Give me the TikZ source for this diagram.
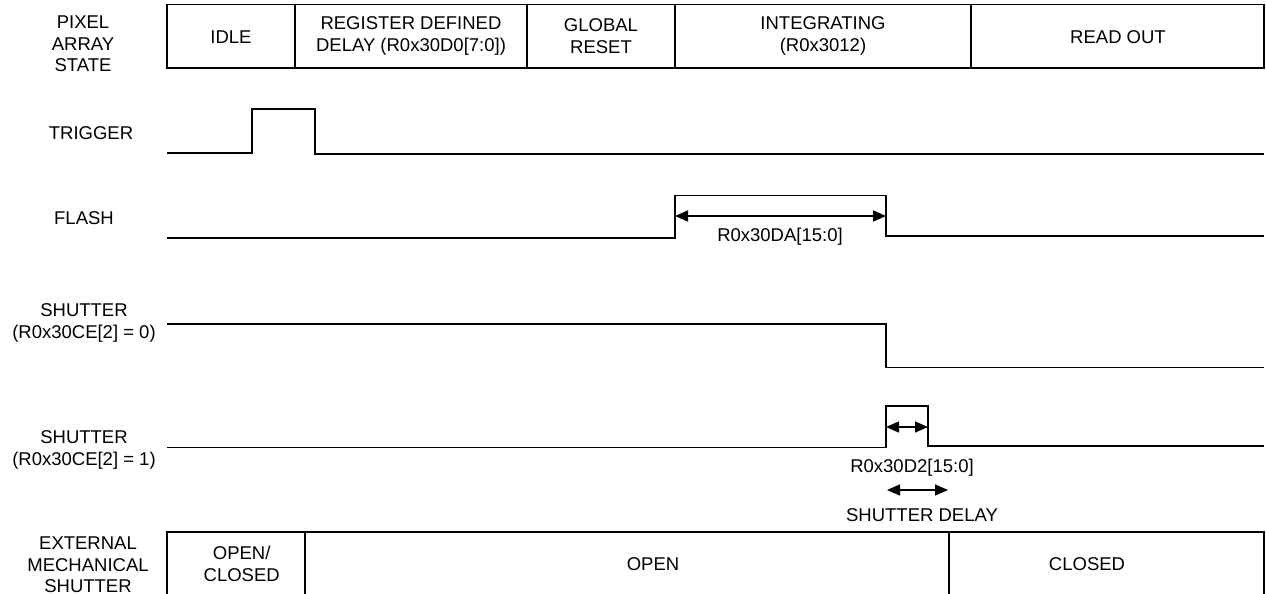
\documentclass[tikz,border=0pt]{standalone}
\usepackage{fontspec}
\setmainfont{Liberation Sans}
\usetikzlibrary{arrows.meta}
\begin{document}
\begin{tikzpicture}[x=1pt,y=-1pt,
  wave/.style={line width=1.6pt, line join=miter},
  frame/.style={line width=1.6pt},
  lbl/.style={align=center, inner sep=0pt, font=\fontsize{18.5}{21.6}\selectfont},
  dimarrow/.style={line width=1.4pt, {Triangle[length=13pt,width=11pt]}-{Triangle[length=13pt,width=11pt]}}]
\useasboundingbox (0,0) rectangle (1266,594);

% ---- left labels
\node[lbl] (lpix) at (83,44) {PIXEL\\ARRAY\\STATE};
\node[lbl] (ltrig) at (91,133) {TRIGGER};
\node[lbl] (lflash) at (84,218) {FLASH};
\node[lbl] (lsh0) at (84,323) {SHUTTER\\(R0x30CE[2] = 0)};
\node[lbl] (lsh1) at (84,450) {SHUTTER\\(R0x30CE[2] = 1)};
\node[lbl] (lext) at (88,565) {EXTERNAL\\MECHANICAL\\SHUTTER};

% ---- pixel array state bar
\draw[frame] (167,4.5) rectangle (1264,68);
\foreach \x in {295,527,675,971} \draw[frame] (\x,4.5) -- (\x,68);
\node[lbl] (sidle) at (231,37) {IDLE};
\node[lbl] (sdelay) at (411,36) {REGISTER DEFINED\\DELAY (R0x30D0[7:0])};
\node[lbl] (sreset) at (601,36) {GLOBAL\\RESET};
\node[lbl] (sint) at (823,36) {INTEGRATING\\(R0x3012)};
\node[lbl] (sread) at (1118,37) {READ OUT};

% ---- trigger
\draw[wave] (167,153) -- (252,153) -- (252,108.7) -- (315,108.7) -- (315,154) -- (1264,154);

% ---- flash
\coordinate (fr) at (675,216);
\coordinate (ff) at (886,216);
\draw[wave] (167,238) -- (675,238) -- (675,195.5) -- (886,195.5) -- (886,236) -- (1264,236);
\draw[dimarrow] (fr) -- (ff);
\node[lbl] (fdim) at (780,237) {R0x30DA[15:0]};

% ---- shutter, R0x30CE[2] = 0
\draw[wave] (167,324) -- (886,324) -- (886,367.4) -- (1264,367.4);

% ---- shutter, R0x30CE[2] = 1
\coordinate (sr) at (886,427);
\coordinate (sf) at (928,427);
\draw[wave] (167,447.5) -- (886,447.5) -- (886,406) -- (928,406) -- (928,446) -- (1264,446);
\draw[dimarrow] (sr) -- (sf);
\node[lbl] (sdim) at (912,468) {R0x30D2[15:0]};
\coordinate (dl) at (887,490);
\coordinate (dr) at (948,490);
\draw[dimarrow] (dl) -- (dr);
\node[lbl] (sdelaytxt) at (922,515) {SHUTTER DELAY};

% ---- external mechanical shutter bar
\draw[frame] (167,600) -- (167,532) -- (1264,532) -- (1264,600);
\foreach \x in {305,949} \draw[frame] (\x,532) -- (\x,600);
\node[lbl] (mopc) at (241.7,564) {OPEN/\\CLOSED};
\node[lbl] (mopen) at (653,564) {OPEN};
\node[lbl] (mclosed) at (1087,564) {CLOSED};
\end{tikzpicture}
\end{document}
